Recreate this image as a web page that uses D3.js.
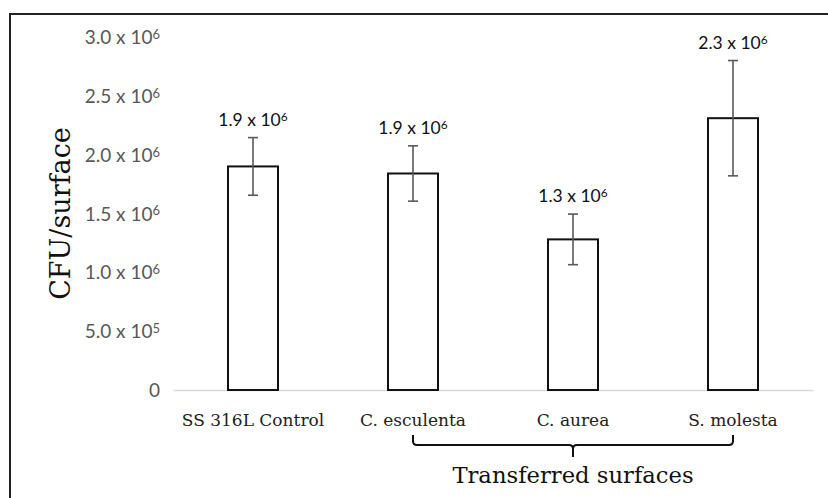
<!DOCTYPE html>
<html>
<head>
<meta charset="utf-8">
<title>CFU/surface</title>
<script src="https://cdn.jsdelivr.net/npm/d3@7"></script>
<style>
  body { margin: 0; background: #fff; }
  svg { display: block; }
</style>
</head>
<body>
<div id="chart"></div>
<script>
  // data
  const categories = ["SS 316L Control", "C. esculenta", "C. aurea", "S. molesta"]
  const means = [1.90e6, 1.84e6, 1.28e6, 2.31e6]
  const errors = [0.245e6, 0.235e6, 0.215e6, 0.49e6]
  const valueLabels = ["1.9 x 10^6", "1.9 x 10^6", "1.3 x 10^6", "2.3 x 10^6"]
  const yTicks = [0, 5e5, 1e6, 1.5e6, 2e6, 2.5e6, 3e6]
  const yTickLabels = ["0", "5.0 x 10^5", "1.0 x 10^6", "1.5 x 10^6", "2.0 x 10^6", "2.5 x 10^6", "3.0 x 10^6"]
  const groupLabel = "Transferred surfaces"
  const groupMembers = ["C. esculenta", "C. aurea", "S. molesta"]

  const W = 828, H = 498
  const sans = "Lato, 'Open Sans', sans-serif"
  const serif = "'DejaVu Serif', 'Liberation Serif', serif"

  const svg = d3.select("#chart").append("svg")
    .attr("width", W).attr("height", H)

  // frame (cut off at right and bottom like the source)
  svg.append("rect")
    .attr("x", 10).attr("y", 14)
    .attr("width", W).attr("height", H)
    .attr("fill", "none").attr("stroke", "#222").attr("stroke-width", 2)

  const x = d3.scaleBand().domain(categories).range([173, 813]).paddingInner(0.6875).paddingOuter(0.34375)
  const y = d3.scaleLinear().domain([0, 3e6]).range([390, 37])

  // put "a x 10^b" into a text node with a superscript
  function powText(sel, s) {
    sel.text(null)
    const p = s.split("^")
    sel.append("tspan").text(p[0])
    if (p.length > 1) {
      sel.append("tspan").attr("dy", "-0.4em").attr("font-size", "0.68em").text(p[1])
    }
  }

  // y axis (labels only)
  const yAxis = svg.append("g")
    .attr("transform", "translate(160,0)")
    .call(d3.axisLeft(y).tickValues(yTicks).tickSize(0).tickPadding(0)
      .tickFormat((d, i) => yTickLabels[i]))
  yAxis.select(".domain").remove()
  yAxis.selectAll("text")
    .attr("font-family", sans).attr("font-size", 19).attr("fill", "#595959")
    .attr("dy", "0.35em")
    .each(function (d, i) { powText(d3.select(this), yTickLabels[i]) })

  // x axis
  const xAxis = svg.append("g")
    .attr("transform", "translate(0,390)")
    .call(d3.axisBottom(x).tickSize(0).tickPadding(24))
  xAxis.select(".domain").attr("stroke", "#d9d9d9").attr("stroke-width", 1.5)
  xAxis.selectAll("text")
    .attr("font-family", serif).attr("font-size", 17).attr("fill", "#222")

  // bars
  svg.append("g").selectAll("rect").data(categories).join("rect")
    .attr("x", d => x(d))
    .attr("y", (d, i) => y(means[i]))
    .attr("width", x.bandwidth())
    .attr("height", (d, i) => y(0) - y(means[i]))
    .attr("fill", "#fff").attr("stroke", "#111").attr("stroke-width", 2)

  // error bars
  const eb = svg.append("g").attr("stroke", "#595959").attr("stroke-width", 1.6)
  categories.forEach((c, i) => {
    const cx = x(c) + x.bandwidth() / 2
    const top = y(means[i] + errors[i]), bot = y(means[i] - errors[i])
    eb.append("line").attr("x1", cx).attr("x2", cx).attr("y1", top).attr("y2", bot)
    eb.append("line").attr("x1", cx - 5).attr("x2", cx + 5).attr("y1", top).attr("y2", top)
    eb.append("line").attr("x1", cx - 5).attr("x2", cx + 5).attr("y1", bot).attr("y2", bot)
  })

  // value labels
  svg.append("g").selectAll("text").data(categories).join("text")
    .attr("x", d => x(d) + x.bandwidth() / 2)
    .attr("y", (d, i) => y(means[i] + errors[i]) - 12)
    .attr("text-anchor", "middle")
    .attr("font-family", sans).attr("font-size", 17.5).attr("fill", "#111")
    .each(function (d, i) { powText(d3.select(this), valueLabels[i]) })

  // y title
  svg.append("text")
    .attr("transform", `translate(70,${(y(0) + y(3e6)) / 2}) rotate(-90)`)
    .attr("text-anchor", "middle")
    .attr("font-family", serif).attr("font-size", 27).attr("fill", "#111")
    .text("CFU/surface")

  // brace under transferred surfaces
  const bx0 = x(groupMembers[0]) + x.bandwidth() / 2
  const bx1 = x(groupMembers[groupMembers.length - 1]) + x.bandwidth() / 2
  const bm = (bx0 + bx1) / 2
  const by0 = 435, by1 = 445, r = 4
  svg.append("path")
    .attr("d", `M${bx0},${by0} V${by1 - r} Q${bx0},${by1} ${bx0 + r},${by1} H${bm - r} Q${bm},${by1} ${bm},${by1 + r} V${by1 + 12}` +
      ` M${bm},${by1 + r} Q${bm},${by1} ${bm + r},${by1} H${bx1 - r} Q${bx1},${by1} ${bx1},${by1 - r} V${by0}`)
    .attr("fill", "none").attr("stroke", "#111").attr("stroke-width", 2)

  svg.append("text")
    .attr("x", bm).attr("y", 483)
    .attr("text-anchor", "middle")
    .attr("font-family", serif).attr("font-size", 22.7).attr("fill", "#111")
    .text(groupLabel)
</script>
</body>
</html>
